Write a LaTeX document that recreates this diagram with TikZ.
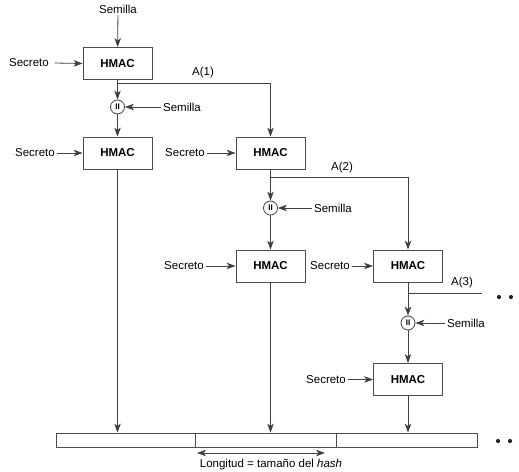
\documentclass[tikz,border=0pt]{standalone}
\usepackage{fontspec}
\setmainfont{Liberation Sans}
\usetikzlibrary{arrows.meta}
\tikzset{
  wire/.style={draw=black!75, line width=0.8pt},
  arr/.style={wire, -{Stealth[length=9pt,width=6.5pt,inset=2.5pt]}},
  darr/.style={wire, {Stealth[length=9pt,width=6.5pt,inset=2.5pt]}-{Stealth[length=9pt,width=6.5pt,inset=2.5pt]}},
  hmac/.style={draw=black!70, line width=0.8pt, minimum width=69pt, minimum height=32pt,
    font=\fontsize{11.5}{13}\selectfont\bfseries, inner sep=0pt},
  lbl/.style={font=\fontsize{11.5}{13}\selectfont, inner sep=1.5pt},
  cat/.style={draw=black!75, line width=0.8pt, circle, minimum size=14pt, inner sep=0pt,
    font=\fontsize{8}{9}\selectfont\bfseries},
  seg/.style={draw=black!70, line width=0.8pt, minimum height=14pt, inner sep=0pt},
  dot/.style={fill=black!85, circle, minimum size=4.2pt, inner sep=0pt},
}
\begin{document}
\begin{tikzpicture}[x=1pt,y=-1pt]
\useasboundingbox (0,0) rectangle (519,471);

% first HMAC fed by the seed
\node[lbl] (semA) at (118,9) {Semilla};
\node[hmac] (h1) at (117.5,63.5) {HMAC};
\node[lbl] (sec1) at (29,63) {Secreto};
\draw[arr] (semA) -- (h1);
\draw[arr] (sec1.east) ++(4,0) coordinate (s1) -- (h1.west);

% concatenation of A(1) with the seed
\node[cat] (c1) at (117.5,107) {II};
\node[lbl] (semC1) at (182,107) {Semilla};
\draw[arr] (h1) -- (c1);
\draw[arr] (semC1) -- (c1);
\coordinate (b1) at (117.5,83);
\node[lbl] (lA1) at (203,73) {A(1)};

% second row
\node[hmac] (h2) at (117.5,153) {HMAC};
\node[lbl] (sec2) at (35,153) {Secreto};
\draw[arr] (c1) -- (h2);
\draw[arr] (sec2) -- (h2);

\node[hmac] (h3) at (270.5,153) {HMAC};
\node[lbl] (sec3) at (185,153) {Secreto};
\draw[arr] (sec3) -- (h3);
\draw[arr] (b1) -| (h3);

% A(2)
\coordinate (b2) at (270.5,177);
\node[lbl] (lA2) at (342,168) {A(2)};
\node[cat] (c2) at (270.5,208) {II};
\node[lbl] (semC2) at (333,208) {Semilla};
\draw[arr] (h3) -- (c2);
\draw[arr] (semC2) -- (c2);

\node[hmac] (h4) at (270.5,266) {HMAC};
\node[lbl] (sec4) at (184,266) {Secreto};
\draw[arr] (c2) -- (h4);
\draw[arr] (sec4) -- (h4);

\node[hmac] (h5) at (408,266) {HMAC};
\node[lbl] (sec5) at (330,266) {Secreto};
\draw[arr] (sec5) -- (h5);
\draw[arr] (b2) -| (h5);

% A(3)
\coordinate (b3) at (408,293);
\coordinate (e3) at (482,293);
\node[lbl] (lA3) at (462,283) {A(3)};
\draw[wire] (b3) -- (e3);
\node[dot] (d1) at (499,297) {};
\node[dot] (d2) at (511,297) {};

\node[cat] (c3) at (408,323) {II};
\node[lbl] (semC3) at (466,323) {Semilla};
\draw[arr] (h5) -- (c3);
\draw[arr] (semC3) -- (c3);

\node[hmac] (h6) at (408,379.5) {HMAC};
\node[lbl] (sec6) at (326,379.5) {Secreto};
\draw[arr] (c3) -- (h6);
\draw[arr] (sec6) -- (h6);

% output bar
\node[seg, minimum width=139pt] (bar1) at (125.5,440) {};
\node[seg, minimum width=141pt] (bar2) at (265.5,440) {};
\node[seg, minimum width=141pt] (bar3) at (406.5,440) {};
\node[dot] (d3) at (498,441) {};
\node[dot] (d4) at (510,441) {};

\draw[arr] (h2) -- (h2.south |- bar1.north);
\draw[arr] (h4) -- (h4.south |- bar2.north);
\draw[arr] (h6) -- (h6.south |- bar3.north);

\coordinate (w1) at (197,453);
\coordinate (w2) at (325,453);
\draw[darr] (w1) -- (w2);
\node[lbl] (len) at (271,465) {Longitud = tamaño del \textit{hash}};
\end{tikzpicture}
\end{document}
